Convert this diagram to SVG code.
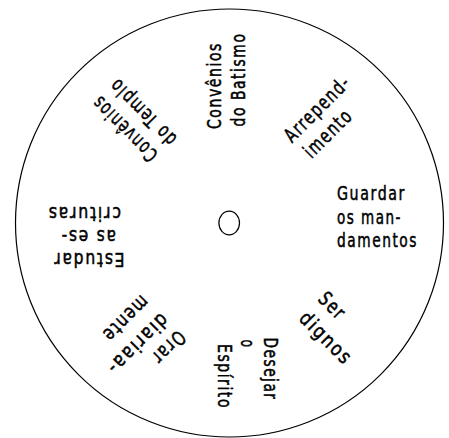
<svg xmlns="http://www.w3.org/2000/svg" width="449" height="438" viewBox="0 0 449 438">
<style>
.t { font-family: 'DejaVu Sans Condensed', 'DejaVu Sans', sans-serif; font-stretch: condensed; font-size: 20px; letter-spacing: 2px; fill: #000; stroke: #000; stroke-width: 0.5; }
.ring { fill: #fff; stroke: #000; stroke-width: 1.2; }
.hole { fill: #fff; stroke: #000; stroke-width: 1.2; }
</style>
<rect width="449" height="438" fill="#fff"/>
<g id="wheel">
  <circle class="ring" cx="229.5" cy="223" r="214"/>
  <ellipse class="hole" cx="229.2" cy="223" rx="10.3" ry="11.8"/>
</g>
<g id="connectors"></g>
<g id="label-guardar">
  <text class="t" transform="translate(337,200)" textLength="69" lengthAdjust="spacingAndGlyphs">Guardar</text>
  <text class="t" transform="translate(337,223.5)" textLength="65" lengthAdjust="spacingAndGlyphs">os man-</text>
  <text class="t" transform="translate(337,247)" textLength="81" lengthAdjust="spacingAndGlyphs">damentos</text>
</g>
<g id="label-batismo">
  <text class="t" transform="translate(220.5,129) rotate(-90)" textLength="87" lengthAdjust="spacingAndGlyphs">Convênios</text>
  <text class="t" transform="translate(245,126.5) rotate(-90)" textLength="94" lengthAdjust="spacingAndGlyphs">do Batismo</text>
</g>
<g id="label-arrependimento">
  <text class="t" transform="translate(292,143.5) rotate(-45)" textLength="85" lengthAdjust="spacingAndGlyphs">Arrepend-</text>
  <text class="t" transform="translate(311.6,159.2) rotate(-45)" textLength="60" lengthAdjust="spacingAndGlyphs">imento</text>
</g>
<g id="label-dignos">
  <text class="t" transform="translate(317,300) rotate(45)" textLength="30" lengthAdjust="spacingAndGlyphs">Ser</text>
  <text class="t" transform="translate(298,319.5) rotate(45)" textLength="66" lengthAdjust="spacingAndGlyphs">dignos</text>
</g>
<g id="label-espirito">
  <text class="t" transform="translate(263.5,337.5) rotate(90)" textLength="63" lengthAdjust="spacingAndGlyphs">Desejar</text>
  <text class="t" transform="translate(240.5,339.5) rotate(90)" textLength="9" lengthAdjust="spacingAndGlyphs">o</text>
  <text class="t" transform="translate(217.5,344) rotate(90)" textLength="65" lengthAdjust="spacingAndGlyphs">Espírito</text>
</g>
<g id="label-orar">
  <text class="t" transform="translate(177.4,329.2) rotate(135)" textLength="39" lengthAdjust="spacingAndGlyphs">Orar</text>
  <text class="t" transform="translate(160.4,312.2) rotate(135)" textLength="78" lengthAdjust="spacingAndGlyphs">diariaa-</text>
  <text class="t" transform="translate(141,294) rotate(135)" textLength="57" lengthAdjust="spacingAndGlyphs">mente</text>
</g>
<g id="label-escrituras">
  <text class="t" transform="translate(124.5,253.3) rotate(180)" textLength="72" lengthAdjust="spacingAndGlyphs">Estudar</text>
  <text class="t" transform="translate(116,230) rotate(180)" textLength="56" lengthAdjust="spacingAndGlyphs">as es-</text>
  <text class="t" transform="translate(121,206.5) rotate(180)" textLength="74" lengthAdjust="spacingAndGlyphs">crituras</text>
</g>
<g id="label-templo">
  <text class="t" transform="translate(159,153.7) rotate(-135)" textLength="84" lengthAdjust="spacingAndGlyphs">Convênios</text>
  <text class="t" transform="translate(177.8,137.7) rotate(-135)" textLength="86" lengthAdjust="spacingAndGlyphs">do Templo</text>
</g>
</svg>
